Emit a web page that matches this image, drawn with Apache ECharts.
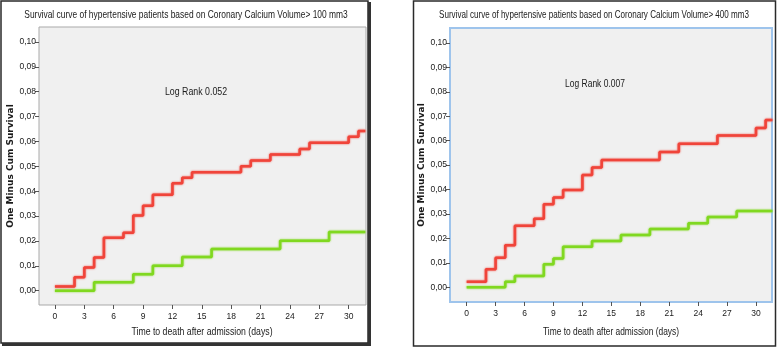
<!DOCTYPE html>
<html><head><meta charset="utf-8">
<script src="https://cdn.jsdelivr.net/npm/echarts@6/dist/echarts.min.js"></script>
<style>html,body{margin:0;padding:0;background:#fff}#c{width:778px;height:348px}</style>
</head><body><div id="c"></div>
<script>
// ---- data ----
const xTicks = [0,3,6,9,12,15,18,21,24,27,30];
const yTicks = [0,0.01,0.02,0.03,0.04,0.05,0.06,0.07,0.08,0.09,0.10];

const titleA = 'Survival curve of hypertensive patients based on Coronary Calcium Volume> 100 mm3';
const titleB = 'Survival curve of hypertensive patients based on Coronary Calcium Volume> 400 mm3';
const logRankA = 'Log Rank 0.052';
const logRankB = 'Log Rank 0.007';
const xName = 'Time to death after admission (days)';
const yName = 'One Minus Cum Survival';

// panel A (> 100 mm3)
const redTimesA  = [0,2,3,4,5,7,8,9,10,12,13,14,19,20,22,25,26,30,31,31.7];
const redValsA   = [0.0017,0.0054,0.0093,0.0133,0.0213,0.0233,0.0302,0.0342,0.0386,0.0432,0.0454,0.0476,0.0500,0.0524,0.0548,0.0570,0.0595,0.0619,0.0642,0.0642];
const greenTimesA = [0,4,8,10,13,16,23,28,31.7];
const greenValsA  = [0,0.0034,0.0066,0.0100,0.0135,0.0168,0.0201,0.0236,0.0236];

// panel B (> 400 mm3)
const redTimesB  = [0,2,3,4,5,7,8,9,10,12,13,14,20,22,26,30,31,31.7];
const redValsB   = [0.0023,0.0074,0.0121,0.0172,0.0252,0.0281,0.0340,0.0368,0.0398,0.0460,0.0490,0.0521,0.0554,0.0587,0.0621,0.0652,0.0685,0.0685];
const greenTimesB = [0,4,5,8,9,10,13,16,19,23,25,28,31.7];
const greenValsB  = [0,0.0023,0.0046,0.0094,0.0118,0.0166,0.0190,0.0214,0.0239,0.0262,0.0288,0.0312,0.0312];

const zip = (t, v) => t.map((x, i) => [x, v[i]]);

const RED = '#f0443a', GREEN = '#80d820';
const FN = "'Liberation Sans',Arial,sans-serif";

function xAxisCfg(gi, min, max) {
  return {
    type: 'value', gridIndex: gi, min: min, max: max,
    splitLine: { show: false },
    axisLine: { show: false, onZero: false },
    axisTick: { show: true, customValues: xTicks, length: 4, lineStyle: { color: '#555' } },
    axisLabel: { customValues: xTicks, color: '#1a1a1a', fontSize: 8.5, fontFamily: FN, margin: 7 }
  };
}
function yAxisCfg(gi, min, max, gap) {
  return {
    type: 'value', gridIndex: gi, min: min, max: max,
    splitLine: { show: false },
    axisLine: { show: false, onZero: false },
    axisTick: { show: true, customValues: yTicks, length: 4, lineStyle: { color: '#555' } },
    axisLabel: { customValues: yTicks, color: '#1a1a1a', fontSize: 8.5, fontFamily: FN, margin: 3,
      formatter: v => v.toFixed(2).replace('.', ',') },
    name: yName, nameLocation: 'middle', nameGap: gap, nameRotate: 90,
    nameTextStyle: { color: '#1a1a1a', fontSize: 9, fontWeight: 'bold', fontFamily: "'DejaVu Sans',sans-serif" }
  };
}
function stepSeries(gi, data, color) {
  return {
    type: 'line', xAxisIndex: gi, yAxisIndex: gi, step: 'end', data: data,
    showSymbol: false, symbol: 'none', animation: false,
    lineStyle: { color: color, width: 2.5, shadowColor: color, shadowBlur: 2 }
  };
}
function label(text, x, y, size, sx) {
  return { type: 'text', x: x, y: y, scaleX: sx, z: 10, silent: true,
    style: { text: text, fontSize: size, fontFamily: FN, fill: '#1a1a1a',
      textAlign: 'center', textVerticalAlign: 'middle' } };
}

const chart = echarts.init(document.getElementById('c'), null, { renderer: 'canvas' });
chart.setOption({
  animation: false,
  backgroundColor: '#fff',
  graphic: [
    { type: 'rect', shape: { x: 1, y: 1, width: 367, height: 342 }, z: -10,
      style: { fill: '#fff', stroke: '#2a2a2a', lineWidth: 1.5 }, silent: true },
    { type: 'rect', shape: { x: 368, y: 2, width: 3, height: 344 }, z: -9, style: { fill: '#333' }, silent: true },
    { type: 'rect', shape: { x: 2, y: 343, width: 369, height: 3 }, z: -9, style: { fill: '#333' }, silent: true },
    { type: 'rect', shape: { x: 413.5, y: 1, width: 362, height: 345 }, z: -10,
      style: { fill: '#fff', stroke: '#2a2a2a', lineWidth: 1.5 }, silent: true },
    label(titleA, 186, 15, 11, 0.765),
    label(titleB, 594, 15, 11, 0.733),
    label(logRankA, 196, 92, 11, 0.8),
    label(logRankB, 595, 84, 11, 0.77),
    label(xName, 202, 332, 10.5, 0.83),
    label(xName, 611, 332, 10.5, 0.80)
  ],
  grid: [
    { left: 39, top: 27, width: 327, height: 278, show: true, backgroundColor: '#f0f0f0',
      borderColor: '#a9a9a9', borderWidth: 1, containLabel: false },
    { left: 450, top: 28, width: 322, height: 274, show: true, backgroundColor: '#f0f0f0',
      borderColor: '#9ec4ec', borderWidth: 2, containLabel: false }
  ],
  xAxis: [ xAxisCfg(0, -1.63, 31.77), xAxisCfg(1, -1.73, 31.66) ],
  yAxis: [ yAxisCfg(0, -0.00575, 0.10603, 22), yAxisCfg(1, -0.0060, 0.1061, 20) ],
  series: [
    stepSeries(0, zip(greenTimesA, greenValsA), GREEN),
    stepSeries(0, zip(redTimesA, redValsA), RED),
    stepSeries(1, zip(greenTimesB, greenValsB), GREEN),
    stepSeries(1, zip(redTimesB, redValsB), RED)
  ]
});
</script></body></html>
